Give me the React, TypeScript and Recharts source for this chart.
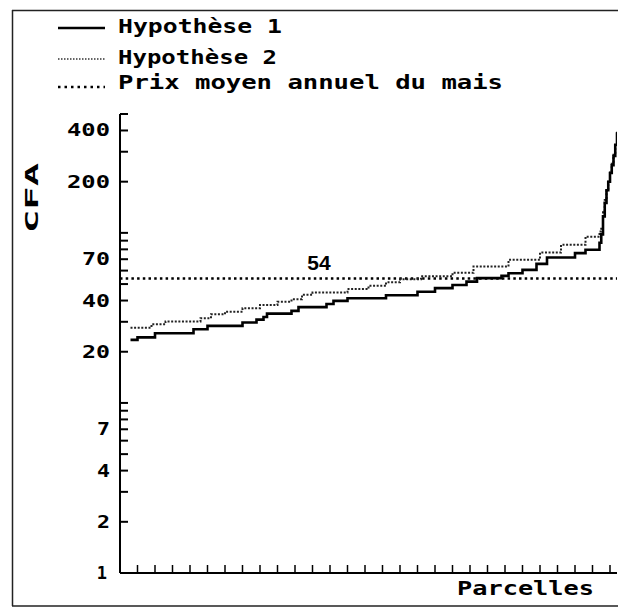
import React from 'react';
import { ComposedChart, Line, XAxis, YAxis, ReferenceLine, Customized } from 'recharts';

// Parcel rank (x) and cost in CFA for each hypothesis (step breakpoints)
const H1_RANK = [3, 5, 10, 21, 25, 35, 39, 41, 42, 49, 51, 59, 61, 65, 76, 85, 90, 95, 99, 102, 109, 111, 115, 119, 122, 130, 133, 137, 137.5, 138, 138.5, 139, 139.5, 140, 140.5, 141, 141.5, 142];
const H1_VALUE = [23.5, 24.3, 25.7, 27.1, 28.4, 29.7, 30.9, 32.0, 33.5, 34.8, 36.6, 38.2, 39.8, 41.3, 43, 45.1, 47.3, 49.4, 51.7, 54.2, 55.9, 57.9, 60.6, 65.7, 71.6, 76, 79.5, 87.4, 98, 125, 150, 178, 200, 225, 250, 283, 330, 390];

const H2_RANK = [3, 9, 13, 23, 26, 30, 35, 40, 45, 49, 52, 55, 65, 71, 76, 80, 86, 95, 101, 111, 120, 126, 133, 137, 137.5, 138, 138.5, 139, 139.5, 140, 140.5, 141, 141.5, 142];
const H2_VALUE = [27.7, 29.0, 30.1, 31.5, 33.2, 34.4, 36.0, 37.7, 39.4, 40.7, 43.2, 44.6, 46.7, 48.8, 51.2, 53.3, 55.5, 58.2, 63.4, 69.4, 76.6, 85, 95, 101.8, 108, 132, 156, 182, 205, 230, 255, 288, 335, 395];

const PRICE = 54;
const PRICE_LABEL = '54';

const Y_TICKS = [1, 2, 3, 4, 5, 6, 7, 8, 9, 10, 20, 30, 40, 50, 60, 70, 80, 90, 100, 200, 300, 400, 500];
const Y_LABELS = [1, 2, 4, 7, 20, 40, 70, 200, 400];
const X_TICKS = [5, 10, 15, 20, 25, 30, 35, 40, 45, 50, 55, 60, 65, 70, 75, 80, 85, 90, 95, 100, 105, 110, 115, 120, 125, 130, 135, 140];

const SERIES_NAMES = ['Hypothèse 1', 'Hypothèse 2', 'Prix moyen annuel du mais'];
const Y_TITLE = 'CFA';
const X_TITLE = 'Parcelles';

const h1Data = H1_RANK.map((x, i) => ({ x, v: H1_VALUE[i] }));
const h2Data = H2_RANK.map((x, i) => ({ x, v: H2_VALUE[i] }));

const FONT = '"DejaVu Sans Mono", monospace';

const YTick = (props: any) => {
  const { x, y, payload } = props;
  const v = payload.value;
  const s = String(v);
  const isLabel = Y_LABELS.includes(v);
  return (
    <g>
      {v !== 1 && <line x1={x} x2={x + 8} y1={y} y2={y} stroke="#000" strokeWidth={2} />}
      {isLabel && (s === '1' ? (
        <text x={x - 13} y={y} dy={6} textAnchor="end" fontFamily={FONT} fontWeight="bold" fontSize={17} fill="#000">{s}</text>
      ) : (
        <text x={x - 10} y={y} dy={6} textAnchor="end" fontFamily={FONT} fontWeight="bold" fontSize={17} fill="#000" textLength={s.length * 15 - 2} lengthAdjust="spacingAndGlyphs">{s}</text>
      ))}
    </g>
  );
};

const XTick = (props: any) => {
  const { x, y } = props;
  return <line x1={x} x2={x} y1={y} y2={y - 8} stroke="#000" strokeWidth={1.5} />;
};

const Decor = () => (
  <g>
    <line x1={12.5} x2={12.5} y1={10} y2={606} stroke="#222" strokeWidth={1.5} />
    <line x1={12} x2={618} y1={10.5} y2={10.5} stroke="#222" strokeWidth={1.5} />
    <line x1={12} x2={618} y1={606} y2={606} stroke="#222" strokeWidth={1.5} />

    <line x1={58} x2={105} y1={28} y2={28} stroke="#000" strokeWidth={2.5} />
    <text x={118} y={33} fontFamily={FONT} fontWeight="bold" fontSize={20} fill="#000" textLength={164} lengthAdjust="spacingAndGlyphs">{SERIES_NAMES[0]}</text>

    <line x1={58} x2={105} y1={59} y2={59} stroke="#333" strokeWidth={1.5} strokeDasharray="1.5 1.5" />
    <text x={118} y={64} fontFamily={FONT} fontWeight="bold" fontSize={20} fill="#000" textLength={159} lengthAdjust="spacingAndGlyphs">{SERIES_NAMES[1]}</text>

    <line x1={58} x2={105} y1={87} y2={87} stroke="#000" strokeWidth={2.5} strokeDasharray="2.5 4" />
    <text x={118} y={89} fontFamily={FONT} fontWeight="bold" fontSize={20} fill="#000" textLength={385} lengthAdjust="spacingAndGlyphs">{SERIES_NAMES[2]}</text>

    <text transform="translate(38,198) rotate(-90)" textAnchor="middle" fontFamily={FONT} fontWeight="bold" fontSize={17} fill="#000" textLength={70} lengthAdjust="spacingAndGlyphs">{Y_TITLE}</text>
    <text x={457} y={595} fontFamily={FONT} fontWeight="bold" fontSize={20} fill="#000" textLength={137} lengthAdjust="spacingAndGlyphs">{X_TITLE}</text>
  </g>
);

const PriceLabel = (props: any) => {
  const vb = props.viewBox || {};
  return (
    <text x={(vb.x || 0) + 199} y={(vb.y || 0) - 8} textAnchor="middle" fontFamily='"Liberation Sans", Arial, sans-serif' fontWeight="bold" fontSize={21} fill="#000">{PRICE_LABEL}</text>
  );
};

export default function App() {
  return (
    <div style={{ position: 'absolute', left: 0, top: 0, width: 618, height: 611, background: '#fff' }}>
      <ComposedChart width={618} height={611} margin={{ top: 114, right: 1, bottom: 0, left: 0 }}>
        <XAxis
          type="number"
          dataKey="x"
          domain={[0, 142]}
          allowDataOverflow
          ticks={X_TICKS}
          interval={0}
          tickSize={0}
          tickMargin={0}
          tickLine={false}
          tick={<XTick />}
          height={38}
          axisLine={{ stroke: '#000', strokeWidth: 2 }}
        />
        <YAxis
          type="number"
          scale="log"
          domain={[1, 500]}
          allowDataOverflow
          ticks={Y_TICKS}
          interval={0}
          tickSize={0}
          tickMargin={0}
          tickLine={false}
          tick={<YTick />}
          width={120}
          axisLine={{ stroke: '#000', strokeWidth: 2 }}
        />
        <ReferenceLine y={PRICE} stroke="#000" strokeWidth={2.5} strokeDasharray="2.5 3.2" label={<PriceLabel />} />
        <Line data={h2Data} dataKey="v" type="stepAfter" stroke="#222" strokeWidth={2} strokeDasharray="2 1.6" dot={false} isAnimationActive={false} />
        <Line data={h1Data} dataKey="v" type="stepAfter" stroke="#000" strokeWidth={2.6} dot={false} isAnimationActive={false} />
        <Customized component={Decor} />
      </ComposedChart>
    </div>
  );
}
